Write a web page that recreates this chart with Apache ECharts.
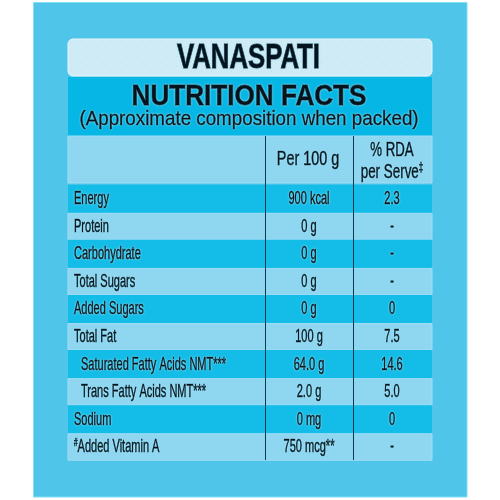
<!DOCTYPE html>
<html><head><meta charset="utf-8">
<style>html,body{margin:0;padding:0;background:#fff}#c{width:500px;height:500px}</style>
<script src="https://cdn.jsdelivr.net/npm/echarts@6/dist/echarts.min.js"></script>
</head><body><div id="c"></div>
<script>
const nutrients = ["Energy","Protein","Carbohydrate","Total Sugars","Added Sugars","Total Fat","Saturated Fatty Acids NMT***","Trans Fatty Acids NMT***","Sodium","#Added Vitamin A"];
const perHundred = ["900 kcal","0 g","0 g","0 g","0 g","100 g","64.0 g","2.0 g","0 mg","750 mcg**"];
const rdaPerServe = ["2.3","-","-","-","0","7.5","14.6","5.0","0","-"];
const indented = ["Saturated Fatty Acids NMT***","Trans Fatty Acids NMT***"];

const SANS = '"Liberation Sans",sans-serif';
const INK = '#03141f', GLOW = 'rgba(170,240,255,0.9)';
const chart = echarts.init(document.getElementById('c'), null, {renderer:'canvas'});

function supMark(t){ return t.replace(/^#/, '{s|#}').replace(/‡$/, '{s|‡}'); }
function textStyle(text, size, weight, align, bolder){
  return {text: supMark(text), fill:INK, font:weight+' '+size+'px '+SANS,
    textAlign:align, textVerticalAlign:'middle', textShadowColor:GLOW, textShadowBlur:2,
    stroke:INK, lineWidth:bolder,
    rich:{s:{font:'normal '+Math.round(size*0.6)+'px '+SANS, fill:INK, verticalAlign:'top'}}};
}
function label(text, x, y, size, scaleX, weight, bolder){
  return {type:'text', x, y, scaleX, z:10, style:textStyle(text,size,weight||'normal','center',bolder||0.6)};
}
function renderRow(params, api){
  const i = api.value(0);
  const p = api.coord([0, i]);
  const band = api.size([0,1])[1];
  const w = api.size([364,0])[0];
  const dark = i % 2 === 0;
  const h = band * (dark ? 1.04 : 0.96);
  return {type:'rect', shape:{x:p[0], y:p[1]-h/2, width:w, height:h},
    style:{fill: dark ? '#14bde8' : '#8fd6f1', stroke: dark ? null : '#a3def4', lineWidth:1}};
}
function renderCell(params, api){
  const p = api.coord([api.value(0), api.value(1)]);
  const left = api.value(3) === 1;
  return {type:'text', x:p[0], y:p[1], scaleX:0.58,
    style:textStyle(api.value(2), 19, 'normal', left?'left':'center', 0.6)};
}
const cells = [];
nutrients.forEach((n,i)=>{
  cells.push([indented.includes(n)?13:6, i, n, 1]);
  cells.push([241, i, perHundred[i], 0]);
  cells.push([324, i, rdaPerServe[i], 0]);
});

function dots(){
  const c = document.createElement('canvas'); c.width = 10; c.height = 10;
  const g = c.getContext('2d');
  g.fillStyle = '#cfebf6'; g.fillRect(0,0,10,10);
  g.fillStyle = '#bfe3f1'; g.fillRect(1,1,1,1); g.fillRect(6,6,1,1);
  return c;
}

chart.setOption({
  animation:false,
  backgroundColor:'#ffffff',
  grid:{left:68, top:185.2, width:364, height:275.6},
  xAxis:{type:'value', min:0, max:364, show:false},
  yAxis:{type:'category', inverse:true, data:nutrients, show:false},
  graphic:[
    {type:'rect', z:-10, shape:{x:33.5,y:2.5,width:433.5,height:494.5}, style:{fill:'#50c5ea', stroke:'#84def8', lineWidth:1}},
    {type:'rect', z:-9, shape:{x:68,y:39,width:364,height:37,r:5}, style:{fill:{image:dots(),repeat:'repeat'}, stroke:'#e6f6fb', lineWidth:1}},
    {type:'rect', z:-9, shape:{x:68,y:77,width:364,height:59}, style:{fill:'#06b6e4'}},
    {type:'rect', z:-9, shape:{x:68,y:136,width:364,height:47}, style:{fill:'#8fd6f1', stroke:'#a3def4', lineWidth:1}},
    {type:'line', z:8, shape:{x1:265.5,y1:136,x2:265.5,y2:460}, style:{stroke:'#0b3a50', lineWidth:1}},
    {type:'line', z:8, shape:{x1:353.5,y1:136,x2:353.5,y2:460}, style:{stroke:'#0b3a50', lineWidth:1}},
    label('VANASPATI',248.5,58.5,35,0.735,'bold',1),
    label('NUTRITION FACTS',249,96.5,29,0.9,'bold',0.8),
    label('(Approximate composition when packed)',249,119,21,0.894,'normal',0.5),
    label('Per 100 g',308,159,20,0.72,'normal',0.6),
    label('% RDA',392,150,20,0.66,'normal',0.6),
    label('per Serve‡',392,172,20,0.67,'normal',0.6)
  ],
  series:[
    {type:'custom', coordinateSystem:'cartesian2d', data:nutrients.map((n,i)=>[i]), encode:{x:-1,y:0}, renderItem:renderRow, silent:true, z:1, clip:false},
    {type:'custom', coordinateSystem:'cartesian2d', data:cells, encode:{x:0,y:1}, renderItem:renderCell, silent:true, z:5, clip:false,
     dimensions:[{name:'x',type:'number'},{name:'row',type:'number'},{name:'text',type:'ordinal'},{name:'left',type:'number'}]}
  ]
});
</script></body></html>
